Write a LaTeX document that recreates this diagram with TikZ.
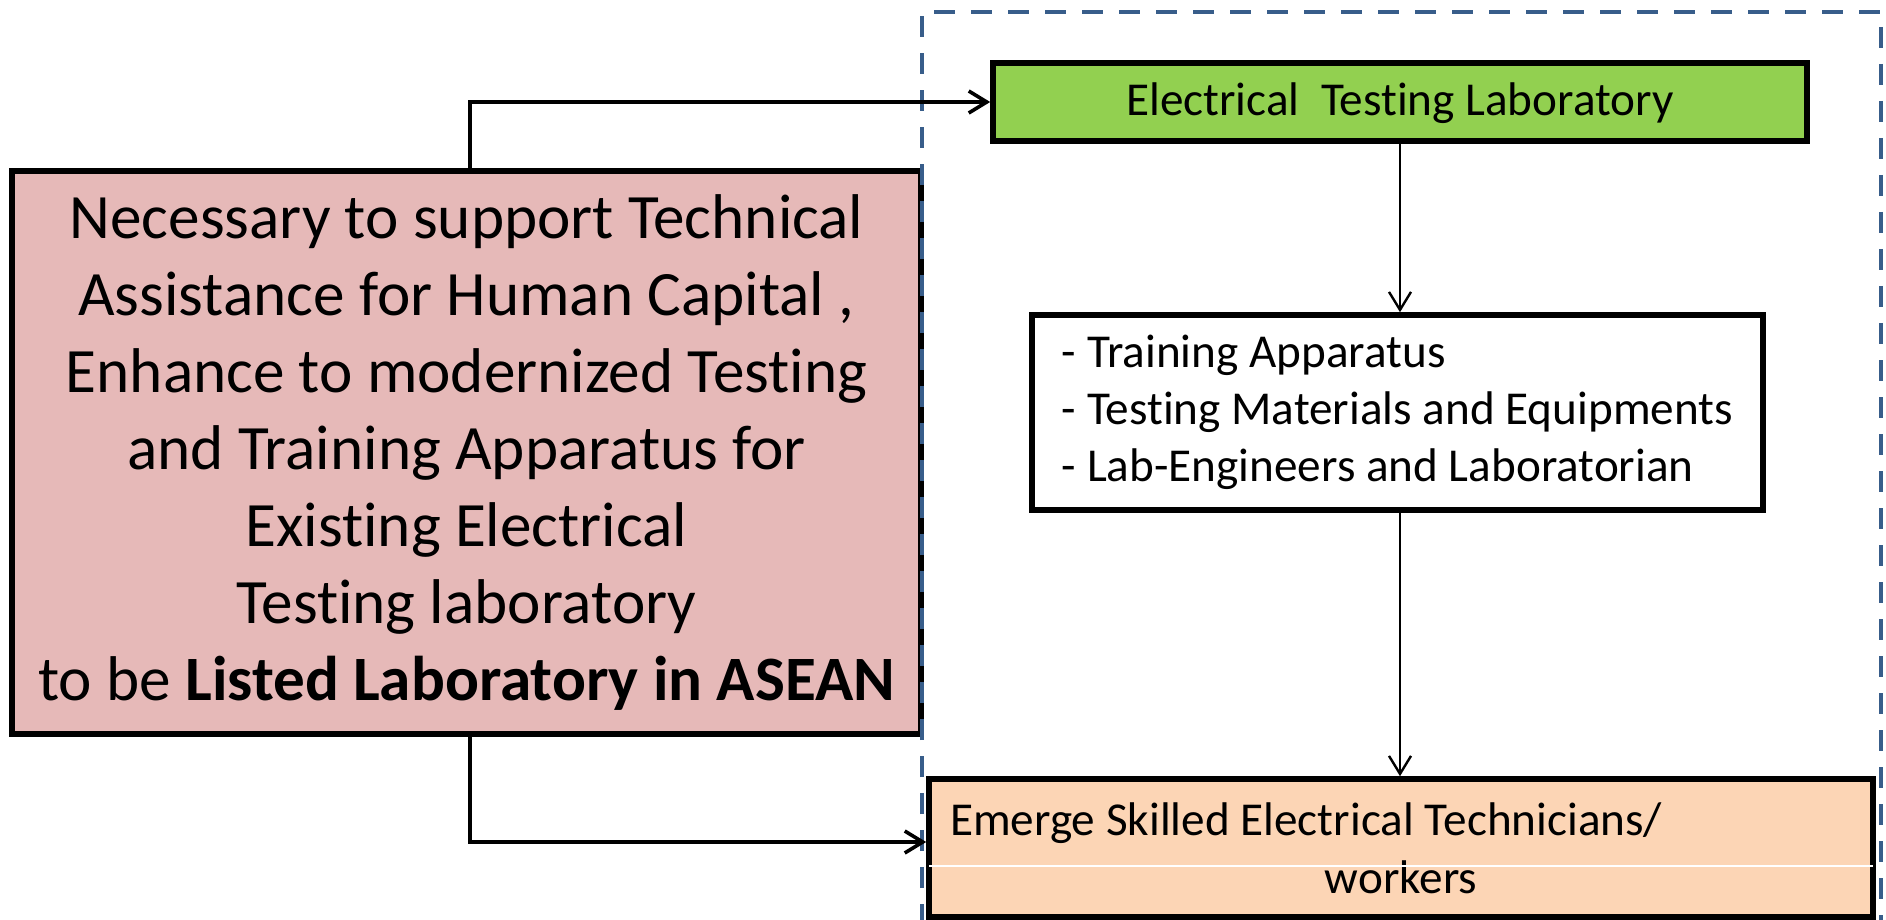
\documentclass[tikz,border=0pt]{standalone}
\usepackage{fontspec}
\setmainfont{Carlito}[RawFeature={-liga;-clig;-calt;-dlig}]
\usetikzlibrary{arrows.meta}
\definecolor{pinkfill}{RGB}{230,185,184}
\definecolor{greenfill}{RGB}{146,208,80}
\definecolor{orangefill}{RGB}{252,213,181}
\definecolor{dashblue}{RGB}{56,93,138}
\tikzset{
  >={Straight Barb[length=9pt,width=11pt]},
  box/.style={draw=black,line width=2.8pt,inner sep=0pt},
  bigtext/.style={font=\fontsize{31.6pt}{38.5pt}\selectfont},
  smalltext/.style={font=\fontsize{23.6pt}{28.5pt}\selectfont},
  elbow/.style={->,line width=1.8pt},
  down/.style={->,line width=1.2pt}
}
\begin{document}
\begin{tikzpicture}[x=0.5pt,y=-0.5pt]
\useasboundingbox (0,0) rectangle (1886,920);
\node [box,fill=pinkfill,minimum width=454.5pt,minimum height=281.5pt,bigtext,align=center] (need) at (466.5,452.5) {Necessary to support Technical\\Assistance for Human Capital ,\\Enhance to modernized Testing\\and Training Apparatus for\\Existing Electrical\\Testing laboratory\\to be \textbf{Listed Laboratory in ASEAN}};
\node [box,fill=greenfill,minimum width=407pt,minimum height=39pt,smalltext,text depth=3pt] (etl) at (1400,102) {Electrical\ \ Testing Laboratory};
\node [box,fill=white,minimum width=365.5pt,minimum height=97.5pt,smalltext,align=left] (items) at (1397.5,412.5) {- Training Apparatus\\- Testing Materials and Equipments\\- Lab-Engineers and Laboratorian};
\node [box,fill=orangefill,minimum width=472pt,minimum height=69pt,font=\fontsize{23.6pt}{29pt}\selectfont,align=center] (skilled) at (1401,848) {\makebox[451pt][l]{Emerge Skilled Electrical Technicians/}\\workers};
\draw [white,line width=0.6pt] ([xshift=1.5pt,yshift=-9pt]skilled.west) -- ([xshift=-1.5pt,yshift=-9pt]skilled.east);
\draw [dashblue,line width=2pt,dash pattern=on 10.5pt off 8pt] (922,925) -- (922,12) -- (1881,12) -- (1881,925);
\draw [elbow] ([xshift=1.75pt]need.north) |- (etl.west);
\draw [elbow] ([xshift=1.75pt]need.south) |- ([yshift=3pt]skilled.west);
\draw [down] (etl.south) -- (items.north -| etl.south);
\draw [down] (items.south -| etl.south) -- (skilled.north -| etl.south);
\end{tikzpicture}
\end{document}
